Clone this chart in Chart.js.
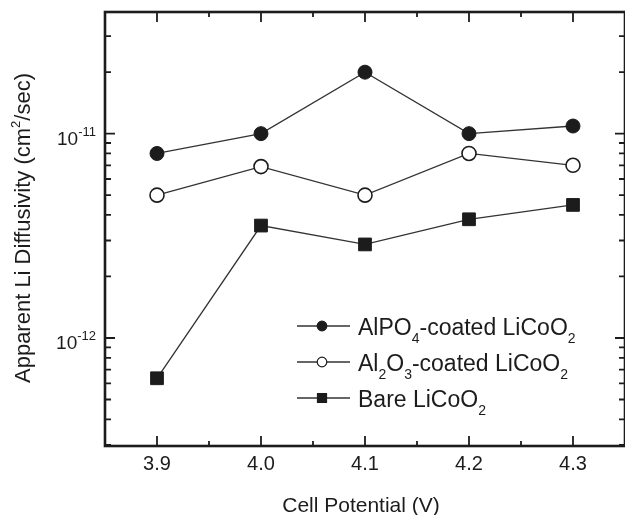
<!DOCTYPE html>
<html>
<head>
<meta charset="utf-8">
<script src="https://cdn.jsdelivr.net/npm/chart.js@4.4.0/dist/chart.umd.min.js"></script>
<style>
  body { margin: 0; background: #fff; }
  #wrap { width: 625px; height: 515px; }
</style>
</head>
<body>
<div id="wrap"><canvas id="diffChart" width="625" height="515"></canvas></div>
<script>
// values
const potentials = [3.9, 4.0, 4.1, 4.2, 4.3];
const alpo4Coated = [8.0e-12, 1.0e-11, 2.0e-11, 1.0e-11, 1.09e-11];
const al2o3Coated = [5.0e-12, 6.9e-12, 5.0e-12, 8.0e-12, 7.0e-12];
const bareLiCoO2 = [6.35e-13, 3.55e-12, 2.87e-12, 3.81e-12, 4.48e-12];

const xTickValues = [3.9, 4.0, 4.1, 4.2, 4.3];
const xMinorValues = [3.95, 4.05, 4.15, 4.25];
const yDecades = [-12, -11];

// legend names, split so subscripts can be drawn smaller
const seriesNames = [
  [['AlPO'], ['4', 'sub'], ['-coated LiCoO'], ['2', 'sub']],
  [['Al'], ['2', 'sub'], ['O'], ['3', 'sub'], ['-coated LiCoO'], ['2', 'sub']],
  [['Bare LiCoO'], ['2', 'sub']]
];
const yTitle = [['Apparent Li Diffusivity (cm'], ['2', 'sup'], ['/sec)']];
const xTitle = 'Cell Potential (V)';

const FONT = '"Liberation Sans", Arial, Helvetica, sans-serif';
const INK = '#1c1c1c';

function toPoints(ys) {
  return potentials.map((x, i) => ({ x: x, y: ys[i] }));
}

// draws text with sub/superscripts, returns width
function richText(ctx, parts, x, y, size, align, smallSize) {
  const small = smallSize || Math.round(size * 0.6);
  let w = 0;
  parts.forEach(p => {
    ctx.font = (p[1] ? small : size) + 'px ' + FONT;
    w += ctx.measureText(p[0]).width;
  });
  let cx = x;
  if (align === 'center') cx = x - w / 2;
  if (align === 'right') cx = x - w;
  ctx.textAlign = 'left';
  ctx.textBaseline = 'alphabetic';
  parts.forEach(p => {
    ctx.font = (p[1] ? small : size) + 'px ' + FONT;
    let dy = 0;
    if (p[1] === 'sub') dy = size * 0.33;
    if (p[1] === 'sup') dy = -size * 0.45;
    ctx.fillText(p[0], cx, y + dy);
    cx += ctx.measureText(p[0]).width;
  });
  return w;
}

const framePlugin = {
  id: 'frame',
  beforeDatasetsDraw(chart) {
    const ctx = chart.ctx;
    const a = chart.chartArea;
    const xs = chart.scales.x, ys = chart.scales.y;
    ctx.save();
    ctx.strokeStyle = INK;
    ctx.fillStyle = INK;

    // inward ticks, x axis (top and bottom)
    ctx.lineWidth = 1.8;
    ctx.beginPath();
    xTickValues.forEach(v => {
      const px = xs.getPixelForValue(v);
      ctx.moveTo(px, a.bottom); ctx.lineTo(px, a.bottom - 10);
      ctx.moveTo(px, a.top); ctx.lineTo(px, a.top + 10);
    });
    xMinorValues.forEach(v => {
      const px = xs.getPixelForValue(v);
      ctx.moveTo(px, a.bottom); ctx.lineTo(px, a.bottom - 5);
      ctx.moveTo(px, a.top); ctx.lineTo(px, a.top + 5);
    });
    // y axis ticks (left and right)
    for (let e = -13; e <= -11; e++) {
      for (let m = 1; m <= 9; m++) {
        const v = m * Math.pow(10, e);
        if (v < ys.min || v > ys.max) continue;
        const py = ys.getPixelForValue(v);
        const len = m === 1 ? 10 : 6;
        ctx.moveTo(a.left, py); ctx.lineTo(a.left + len, py);
        ctx.moveTo(a.right, py); ctx.lineTo(a.right - len, py);
      }
    }
    ctx.stroke();

    // frame
    ctx.lineWidth = 2.6;
    ctx.strokeRect(a.left, a.top, a.right - a.left, a.bottom - a.top);

    // x tick labels
    ctx.font = '20px ' + FONT;
    ctx.textAlign = 'center';
    ctx.textBaseline = 'middle';
    xTickValues.forEach(v => {
      ctx.fillText(v.toFixed(1), xs.getPixelForValue(v), 464);
    });

    // y tick labels 10^e
    yDecades.forEach(e => {
      const py = ys.getPixelForValue(Math.pow(10, e));
      richText(ctx, [['10'], [String(e), 'sup']], 96, py + 11, 19, 'right', 13);
    });

    // axis titles
    richText(ctx, [[xTitle]], 361, 512, 21, 'center');
    ctx.save();
    ctx.translate(30, 228);
    ctx.rotate(-Math.PI / 2);
    richText(ctx, yTitle, 0, 0, 22, 'center', 13);
    ctx.restore();
    ctx.restore();
  },
  afterDraw(chart) {
    // legend with subscripts
    const ctx = chart.ctx;
    ctx.save();
    const baseY = [335, 371, 407];
    chart.data.datasets.forEach((ds, i) => {
      const ly = baseY[i] - 9;
      ctx.strokeStyle = ds.borderColor;
      ctx.lineWidth = 1.3;
      ctx.beginPath();
      ctx.moveTo(297, ly); ctx.lineTo(350, ly);
      ctx.stroke();
      ctx.fillStyle = ds.pointBackgroundColor;
      ctx.strokeStyle = ds.pointBorderColor;
      ctx.lineWidth = 1.2;
      ctx.beginPath();
      if (ds.pointStyle === 'rect') {
        ctx.rect(322 - 4.5, ly - 4.5, 9, 9);
      } else {
        ctx.arc(322, ly, 4.8, 0, Math.PI * 2);
      }
      ctx.fill();
      ctx.stroke();
      ctx.fillStyle = INK;
      richText(ctx, seriesNames[i], 358, baseY[i], 23, 'left', 14);
    });
    ctx.restore();
  }
};

new Chart(document.getElementById('diffChart'), {
  type: 'line',
  data: {
    datasets: [
      {
        label: 'AlPO4-coated LiCoO2',
        data: toPoints(alpo4Coated),
        borderColor: '#333',
        borderWidth: 1.3,
        pointStyle: 'circle',
        pointRadius: 7,
        pointBackgroundColor: INK,
        pointBorderColor: INK,
        pointBorderWidth: 1
      },
      {
        label: 'Al2O3-coated LiCoO2',
        data: toPoints(al2o3Coated),
        borderColor: '#333',
        borderWidth: 1.3,
        pointStyle: 'circle',
        pointRadius: 7,
        pointBackgroundColor: '#fff',
        pointBorderColor: INK,
        pointBorderWidth: 1.6
      },
      {
        label: 'Bare LiCoO2',
        data: toPoints(bareLiCoO2),
        borderColor: '#333',
        borderWidth: 1.3,
        pointStyle: 'rect',
        pointRadius: 9,
        pointBackgroundColor: INK,
        pointBorderColor: INK,
        pointBorderWidth: 1
      }
    ]
  },
  options: {
    responsive: false,
    animation: false,
    layout: { autoPadding: false, padding: { left: 105, top: 12, right: 0, bottom: 69 } },
    plugins: { legend: { display: false }, tooltip: { enabled: false } },
    elements: { line: { tension: 0 } },
    scales: {
      x: { type: 'linear', min: 3.85, max: 4.35, display: false },
      y: { type: 'logarithmic', min: 2.96e-13, max: 3.94e-11, display: false }
    }
  },
  plugins: [framePlugin]
});
</script>
</body>
</html>
